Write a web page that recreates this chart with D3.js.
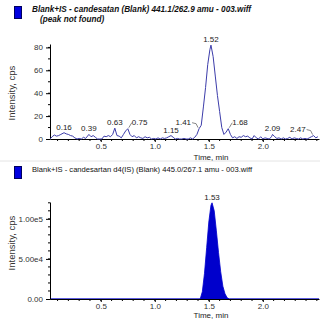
<!DOCTYPE html>
<html>
<head>
<meta charset="utf-8">
<script src="https://cdn.jsdelivr.net/npm/d3@7"></script>
<style>
  body { margin: 0; background: #fff; }
  svg { display: block; font-family: "Liberation Sans", Arial, sans-serif; }
</style>
</head>
<body>
<svg id="chart" width="320" height="320"></svg>
<script>
// analyte trace (Blank, peak not found) - time in min, intensity in cps
var blankTimes = [0.03, 0.05, 0.07, 0.09, 0.11, 0.13, 0.16, 0.18, 0.20, 0.22, 0.24, 0.26, 0.28, 0.30, 0.32, 0.34, 0.36, 0.39, 0.41, 0.43,
    0.45, 0.47, 0.49, 0.51, 0.53, 0.55, 0.57, 0.59, 0.61, 0.63, 0.65, 0.67, 0.69, 0.71, 0.73, 0.75, 0.77, 0.79, 0.81, 0.83,
    0.85, 0.87, 0.89, 0.91, 0.93, 0.95, 0.97, 0.99, 1.01, 1.03, 1.05, 1.07, 1.09, 1.11, 1.13, 1.15, 1.17, 1.19, 1.21, 1.23,
    1.25, 1.27, 1.29, 1.31, 1.33, 1.35, 1.37, 1.39, 1.41, 1.43, 1.45, 1.47, 1.49, 1.51, 1.52, 1.54, 1.56, 1.58, 1.60, 1.62,
    1.64, 1.66, 1.68, 1.70, 1.72, 1.74, 1.76, 1.78, 1.80, 1.82, 1.84, 1.86, 1.88, 1.90, 1.92, 1.94, 1.96, 1.98, 2.00, 2.02,
    2.04, 2.06, 2.08, 2.09, 2.11, 2.13, 2.15, 2.17, 2.19, 2.21, 2.23, 2.25, 2.27, 2.29, 2.31, 2.33, 2.35, 2.37, 2.39, 2.41,
    2.43, 2.45, 2.47, 2.49, 2.51];
var blankCps = [0, 2, 3.5, 2.5, 3, 4, 5.5, 4.5, 4, 3, 2.5, 1, 0, 0.5, 0, 1.5, 0.5, 4, 2, 3,
    1.5, 0, 0, 0, 2.5, 2, 3, 2, 4, 9.5, 3, 2.5, 1, 4, 7, 9, 4, 2, 3, 1,
    2, 1, 0.5, 2, 1, 1.5, 0, 0.5, 0, 1, 0, 1, 0.5, 1, 2, 3, 1.5, 0, 0.5, 0,
    0, 0.5, 0, 0, 1, 0, 1.5, 4, 9, 12, 28, 45, 65, 78, 82, 72, 55, 38, 24, 10,
    4, 6, 9, 4, 1, 2, 0.5, 2, 1.5, 3, 2, 2.5, 1, 0, 3, 1, 0, 2, 0, 1,
    0.5, 0, 2, 4, 2, 0.5, 1, 0, 1, 0, 0.5, 1.5, 0, 1, 0.5, 0, 1, 0, 0.5, 0,
    1, 2, 3, 1, 2];
var blankPeakLabels = ["0.16", "0.39", "0.63", "0.75", "1.15", "1.41", "1.52", "1.68", "2.09", "2.47"];

// internal standard trace (candesartan d4)
var isTimes = [0.03, 1.42, 1.44, 1.46, 1.48, 1.50, 1.52, 1.53, 1.55, 1.57, 1.59, 1.61, 1.63, 1.65, 1.67, 1.69, 2.52];
var isCps = [0, 0, 9000, 32000, 64000, 96000, 117000, 120000, 110000, 85000, 58000, 34000, 16000, 6500, 1500, 0, 0];
var isPeakLabels = ["1.53"];

var topTitle = "Blank+IS - candesatan (Blank) 441.1/262.9 amu - 003.wiff";
var topSubtitle = "(peak not found)";
var bottomTitle = "Blank+IS - candesartan d4(IS) (Blank) 445.0/267.1 amu - 003.wiff";
var xTicks = [0.5, 1.0, 1.5, 2.0];
var topYTicks = [0, 20, 40, 60, 80];
var bottomYTicks = [0, 50000, 100000];

var svg = d3.select("#chart");

// light pane separator
svg.append("line").attr("x1", 0).attr("x2", 320).attr("y1", 161).attr("y2", 161)
    .attr("stroke", "#e4e4e4");

var x = d3.scaleLinear().domain([0.03, 2.52]).range([50, 319]);

function header(y0, title, sub, bold) {
    svg.append("rect").attr("x", 14.5).attr("y", y0 + 0.5).attr("width", 7).attr("height", 12)
        .attr("fill", "#0000e0").attr("stroke", "#000060");
    svg.append("text").attr("x", 32).attr("y", y0 + 6)
        .attr("font-size", bold ? 8.2 : 7.6).attr("fill", "#111")
        .attr("font-weight", bold ? "bold" : "normal")
        .attr("font-style", bold ? "italic" : "normal")
        .text(title);
    if (sub) {
        svg.append("text").attr("x", 40).attr("y", y0 + 16)
            .attr("font-size", 8.2).attr("font-weight", "bold").attr("font-style", "italic")
            .attr("fill", "#111").text(sub);
    }
}

function panel(y, yTicks, yFmt, yMinor, yLabelY, timeY) {
    var g = svg.append("g");
    var y0 = y.range()[0];

    // x axis
    var xAxis = d3.axisBottom(x).tickValues(xTicks).tickFormat(d3.format(".1f"))
        .tickSize(3).tickSizeOuter(0);
    var xa = g.append("g").attr("transform", "translate(0," + y0 + ")").call(xAxis);
    xa.append("g").selectAll("line").data(d3.range(1, 26).map(function(d) { return d / 10; }))
        .enter().append("line")
        .attr("x1", function(d) { return x(d); }).attr("x2", function(d) { return x(d); })
        .attr("y1", 0).attr("y2", 2).attr("stroke", "#000");
    xa.selectAll("text").attr("font-size", 8).attr("fill", "#333").attr("dy", "0.55em");

    // y axis
    var yAxis = d3.axisLeft(y).tickValues(yTicks).tickFormat(yFmt).tickSize(4).tickSizeOuter(0);
    var ya = g.append("g").attr("transform", "translate(50,0)").call(yAxis);
    ya.append("g").selectAll("line").data(yMinor).enter().append("line")
        .attr("x1", -2).attr("x2", 0)
        .attr("y1", function(d) { return y(d); }).attr("y2", function(d) { return y(d); })
        .attr("stroke", "#000");
    ya.selectAll("text").attr("font-size", 8).attr("fill", "#333");
    g.selectAll(".domain").attr("stroke", "#000");

    g.append("text").attr("transform", "translate(15," + yLabelY + ") rotate(-90)")
        .attr("text-anchor", "middle").attr("font-size", 9.5).attr("fill", "#333")
        .text("Intensity, cps");
    g.append("text").attr("x", 211).attr("y", timeY).attr("text-anchor", "middle")
        .attr("font-size", 8).attr("fill", "#222").text("Time, min");
    return g;
}

// top panel: analyte
header(6, topTitle, topSubtitle, true);
var yTop = d3.scaleLinear().domain([0, 83]).range([139, 44]);
var gTop = panel(yTop, topYTicks, d3.format("d"), d3.range(10, 81, 10), 93, 160);

var topData = blankTimes.map(function(t, i) { return [t, blankCps[i]]; });
gTop.append("path").datum(topData)
    .attr("fill", "none").attr("stroke", "#3c3caa").attr("stroke-width", 1)
    .attr("d", d3.line().x(function(d) { return x(d[0]); }).y(function(d) { return yTop(d[1]); }));

// peak labels sit at the apex of their time
blankPeakLabels.forEach(function(lab) {
    var t = +lab;
    var i = d3.minIndex(blankTimes, function(v) { return Math.abs(v - t); });
    var px = x(t), py = yTop(blankCps[i]);
    var anchor = "middle", lx = px, ly = py - 3;
    if (lab === "1.41" || lab === "2.47") {
        anchor = "end"; lx = px - 8; ly = py - 4;
        gTop.append("path").attr("d", "M" + (lx + 1) + "," + (ly - 2) + "L" + (px - 3) + "," + (ly - 1) + "L" + (px - 1) + "," + (py - 1))
            .attr("fill", "none").attr("stroke", "#555").attr("stroke-width", 0.7);
    } else if (lab === "1.68" || lab === "0.75") {
        anchor = "start"; lx = px + 4; ly = py - 4;
        gTop.append("path").attr("d", "M" + (px + 1) + "," + (py - 1) + "L" + (lx) + "," + (ly - 2))
            .attr("fill", "none").attr("stroke", "#555").attr("stroke-width", 0.7);
    }
    gTop.append("text").attr("x", lx).attr("y", ly).attr("text-anchor", anchor)
        .attr("font-size", 8).attr("fill", "#222").text(lab);
});

// bottom panel: internal standard
header(166, bottomTitle, null, false);
var yBot = d3.scaleLinear().domain([0, 121000]).range([299, 202]);
var gBot = panel(yBot, bottomYTicks, function(d) { return d === 0 ? "0.00" : d3.format(".2e")(d).replace("e+", "e"); },
    d3.range(10000, 120001, 10000), 243, 318);

var botData = isTimes.map(function(t, i) { return [t, isCps[i]]; });
gBot.insert("path", ":first-child").datum(botData)
    .attr("fill", "#0000cc").attr("stroke", "#0000cc").attr("stroke-width", 0.8)
    .attr("d", d3.area().x(function(d) { return x(d[0]); }).y0(yBot(0)).y1(function(d) { return yBot(d[1]); }));

isPeakLabels.forEach(function(lab) {
    var t = +lab;
    var i = d3.minIndex(isTimes, function(v) { return Math.abs(v - t); });
    gBot.append("text").attr("x", x(t)).attr("y", yBot(isCps[i]) - 3).attr("text-anchor", "middle")
        .attr("font-size", 8).attr("fill", "#222").text(lab);
});
</script>
</body>
</html>
